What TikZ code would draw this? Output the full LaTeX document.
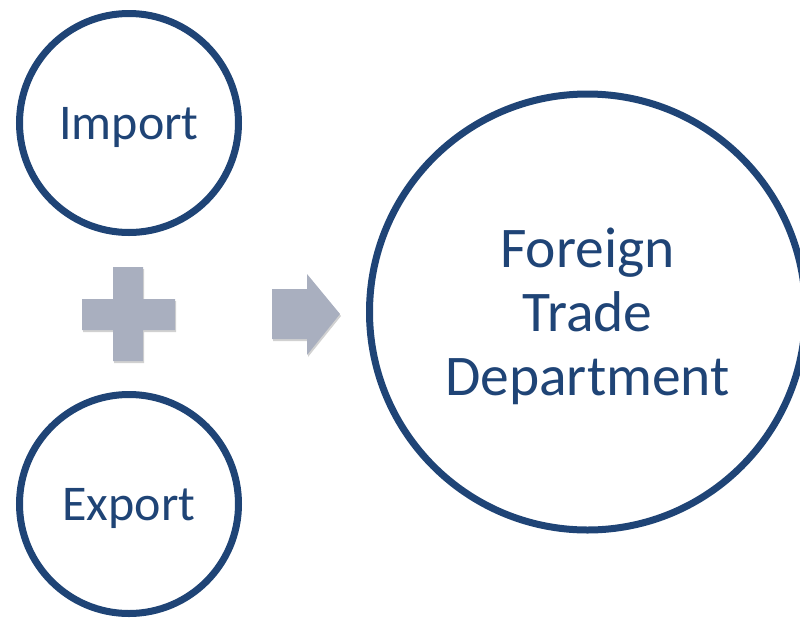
\documentclass[tikz,border=0pt]{standalone}
\usepackage{fontspec}
\setmainfont{Carlito}
\usetikzlibrary{shadows}
\definecolor{tradeblue}{RGB}{31,68,118}
\definecolor{signgrey}{RGB}{169,175,191}

\begin{document}
\begin{tikzpicture}[x=1pt, y=-1pt,
    softshadow/.style={drop shadow={shadow xshift=1pt, shadow yshift=-2pt, opacity=0.18, fill=black}},
    bubble/.style={circle, draw=tradeblue, line width=7pt, fill=white, text=tradeblue,
      inner sep=0pt, text depth=0pt, softshadow},
    sign/.style={fill=signgrey, softshadow}]
			%%%%% START %%%%%
			\useasboundingbox (0, 0) rectangle (800, 619);
			
			\node[bubble, minimum size=219pt, font=\fontsize{50}{60}\selectfont] (import) at (129, 123) {Import};
			\node[bubble, minimum size=219pt, font=\fontsize{50}{60}\selectfont] (export) at (129, 504) {Export};
			
			\node[bubble, minimum size=436pt, align=center, font=\fontsize{57.5}{64}\selectfont] (dept) at (587.5, 312) {Foreign\\Trade\\Department};
			
			% plus
			\path[sign] (113, 267) -- (143, 267) -- (143, 299) -- (175, 299) -- (175, 330) -- (143, 330)
			  -- (143, 361) -- (113, 361) -- (113, 330) -- (82, 330) -- (82, 299) -- (113, 299) -- cycle;
			
			% arrow
			\path[sign] (272, 289) -- (307, 289) -- (307, 274) -- (340, 314) -- (307, 355) -- (307, 339)
			  -- (272, 339) -- cycle;
			
			%%%%% END %%%%%
\end{tikzpicture}
\end{document}
